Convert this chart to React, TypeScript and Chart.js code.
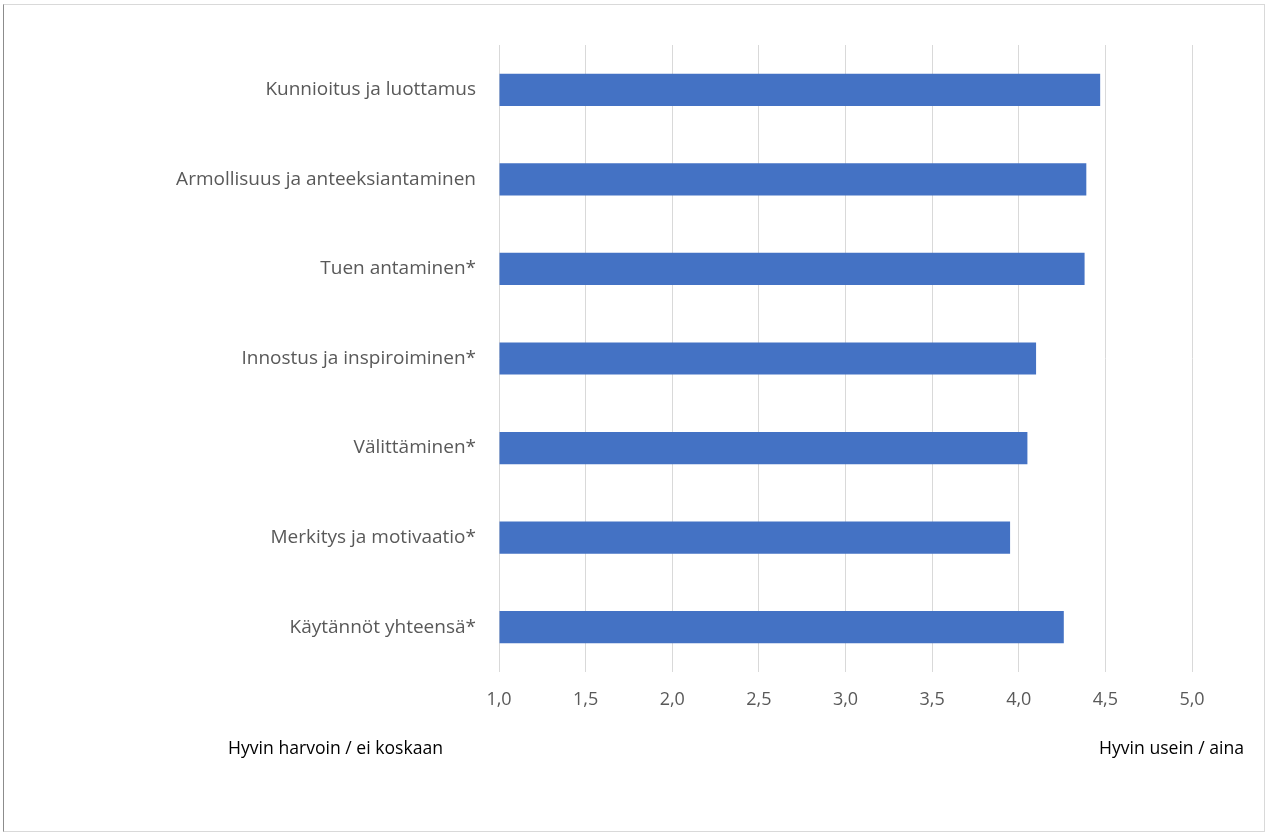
import React, { useEffect, useRef } from "react";
import { Chart, registerables } from "chart.js";

Chart.register(...registerables);

const categories: string[] = [
  "Kunnioitus ja luottamus",
  "Armollisuus ja anteeksiantaminen",
  "Tuen antaminen*",
  "Innostus ja inspiroiminen*",
  "Välittäminen*",
  "Merkitys ja motivaatio*",
  "Käytännöt yhteensä*",
];
const values: number[] = [4.47, 4.39, 4.38, 4.1, 4.05, 3.95, 4.26];
const xMin = 1.0;
const xMax = 5.0;
const xStep = 0.5;
const leftNote = "Hyvin harvoin / ei koskaan";
const rightNote = "Hyvin usein / aina";

export default function App() {
  const ref = useRef<HTMLCanvasElement | null>(null);

  useEffect(() => {
    if (!ref.current) return;
    const chart = new Chart(ref.current, {
      type: "bar",
      data: {
        labels: categories,
        datasets: [
          {
            data: values,
            backgroundColor: "#4472C4",
            borderWidth: 0,
            barPercentage: 0.36,
            categoryPercentage: 1,
            base: xMin,
          },
        ],
      },
      options: {
        indexAxis: "y",
        animation: false,
        responsive: false,
        maintainAspectRatio: false,
        layout: { padding: { top: 45, right: 76, bottom: 0, left: 0 } },
        plugins: { legend: { display: false }, tooltip: { enabled: false } },
        scales: {
          x: {
            min: xMin,
            max: xMax,
            ticks: {
              stepSize: xStep,
              color: "#595959",
              font: { family: "'Open Sans', sans-serif", size: 18 },
              padding: 17,
              callback: (v: any) => Number(v).toFixed(1).replace(".", ","),
            },
            grid: { color: "#d9d9d9", drawTicks: false },
            border: { display: false },
            afterFit: (s: any) => {
              s.height = 833 - 672;
            },
          },
          y: {
            ticks: {
              color: "#595959",
              font: { family: "'Open Sans', sans-serif", size: 19 },
              padding: 23,
            },
            grid: { display: false, drawTicks: false },
            border: { display: false },
            afterFit: (s: any) => {
              s.width = 499;
            },
          },
        },
      },
    });
    return () => chart.destroy();
  }, []);

  const noteStyle: React.CSSProperties = {
    position: "absolute",
    top: 735,
    fontFamily: "'Open Sans', sans-serif",
    fontSize: 17.6,
    lineHeight: "24px",
    color: "#000",
    whiteSpace: "nowrap",
  };

  return (
    <div
      style={{
        position: "absolute",
        left: 0,
        top: 0,
        width: 1268,
        height: 833,
        background: "#fff",
      }}
    >
      <div
        style={{
          position: "absolute",
          left: 3,
          top: 4,
          width: 1262,
          height: 828,
          borderTop: "1px solid #d9d9d9",
          borderRight: "1px solid #d9d9d9",
          borderBottom: "1px solid #d9d9d9",
          borderLeft: "1px solid #8c8c8c",
          boxSizing: "border-box",
        }}
      />
      <canvas
        ref={ref}
        width={1268}
        height={833}
        style={{ position: "absolute", left: 0, top: 0, width: 1268, height: 833 }}
      />
      <div style={{ ...noteStyle, left: 228 }}>{leftNote}</div>
      <div style={{ ...noteStyle, left: 1099 }}>{rightNote}</div>
    </div>
  );
}
